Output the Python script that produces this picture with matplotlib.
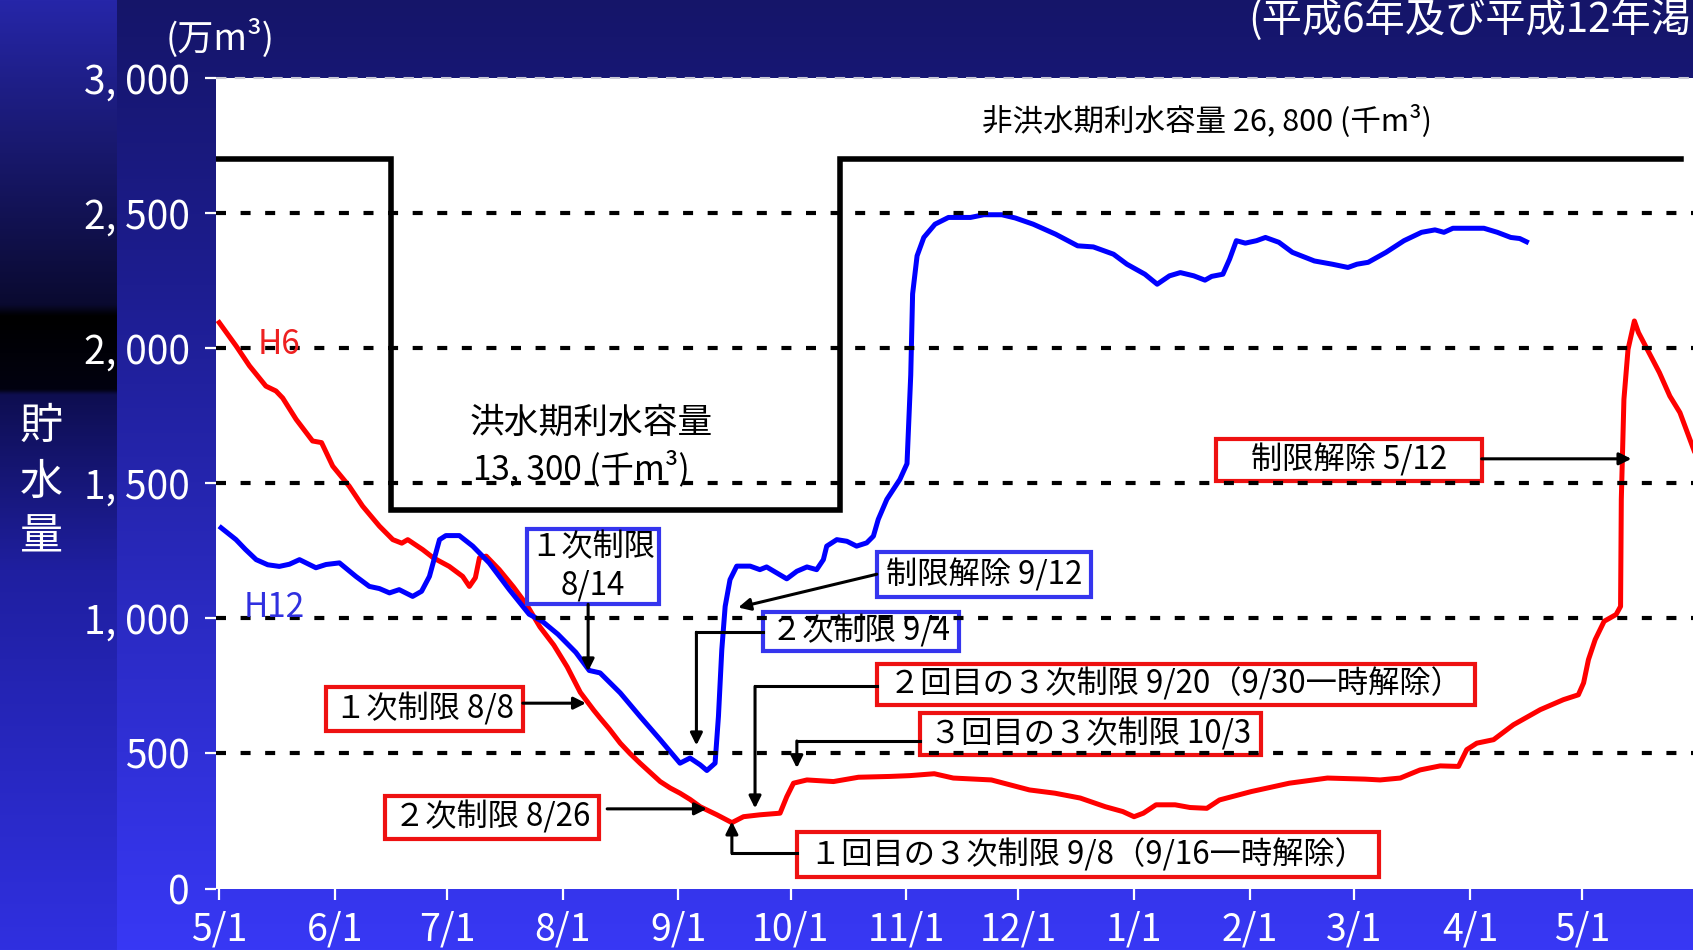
import numpy as np
import pandas as pd
import matplotlib.pyplot as plt
from matplotlib.patches import Rectangle
from matplotlib.ticker import FuncFormatter

plt.rcParams['font.family'] = ['Noto Sans CJK JP', 'DejaVu Sans']

# storage volume (万m3), x = days counted from 5/1
h6_day = [0, 4.5, 8.1, 12.5, 15.2, 17, 20.6, 25, 27.4, 30.4, 34.8, 38.4, 42.9,
          46.5, 48.9, 50.5, 54.5, 57.3, 61.6, 65.2, 67.0, 68.6, 69.7, 71.5,
          75.0, 78.8, 82.4, 85.9, 89.6, 93.2, 96.7, 100.3, 102.0, 104.5, 107.4,
          110.0, 112.7, 115.4, 118.1, 120.8, 123.4, 126.1, 128.8, 133.3, 137.3,
          140.4, 144.8, 150.2, 152.0, 153.8, 157.4, 164.5, 171.2, 179.7, 185,
          191.5, 196.6, 206.8, 217, 223.8, 230.6, 237.3, 242, 245, 247.5, 250.9,
          256, 260, 264.5, 267.9, 276.4, 286.6, 296.8, 306.9, 310.9, 316.3,
          321.6, 327.0, 331.9, 334.1, 336.8, 341.3, 346.6, 353.8, 360.0, 364.0,
          365.4, 366.7, 368.5, 370.9, 374.1, 375.3, 375.5, 376.2, 377.3, 379,
          380.1, 382.9, 385.7, 388.5, 391.2, 395]
h6_vol = [2094, 2008, 1934, 1859, 1841, 1815, 1736, 1656, 1650, 1563, 1489, 1415,
          1341, 1291, 1278, 1291, 1254, 1224, 1192, 1155, 1118, 1150, 1224, 1230,
          1180, 1116, 1049, 968, 901, 820, 726, 660, 631, 590, 538, 500, 464, 430,
          396, 372, 353, 330, 303, 273, 244, 266, 273, 279, 340, 390, 402, 396,
          412, 415, 418, 425, 409, 402, 365, 353, 335, 303, 285, 266, 279, 310,
          310, 300, 297, 328, 359, 390, 409, 405, 402, 409, 439, 454, 452, 514,
          538, 551, 606, 662, 699, 717, 761, 847, 921, 989, 1014, 1044, 1440,
          1810, 1995, 2100, 2057, 1983, 1909, 1822, 1761, 1620]

h12_day = [0.5, 4.5, 7, 9.9, 13, 16.1, 18.8, 21.5, 25.9, 28.6, 32.2, 36.6, 40.2,
           42.9, 45.6, 48.2, 51.8, 54.2, 56.3, 59.0, 60.7, 64.3, 67.9, 72.3, 77.7,
           83, 86.6, 90.7, 95.5, 99.1, 102.0, 107.4, 112.7, 118.1, 123.4, 126.1,
           128.8, 130.6, 132.8, 133.7, 134.6, 135.5, 136.8, 138.6, 142.2, 144.8,
           146.6, 149.3, 152, 154.7, 157.4, 160, 161.8, 162.7, 165.4, 168.1, 170.7,
           173.4, 175.2, 176.5, 178.8, 182.3, 184.2, 185.2, 185.7, 186.9, 188.7,
           191.7, 195.3, 201.2, 204.8, 209.6, 213.2, 218, 224, 229.9, 234.1, 239.5,
           243.1, 247.9, 251.2, 254.5, 257.4, 261, 264, 265.8, 268.8, 270.6, 272.4,
           274.8, 277.8, 280.2, 283.8, 287.4, 293.3, 298.1, 302.3, 304.7, 307.7,
           312.5, 317.3, 322, 325.6, 328, 330.4, 338.7, 342.3, 345.9, 348.3, 350.1]
h12_vol = [1335, 1291, 1255, 1217, 1198, 1192, 1200, 1217, 1187, 1199, 1205, 1155,
           1118, 1110, 1094, 1106, 1081, 1100, 1155, 1291, 1306, 1306, 1267, 1205,
           1106, 1015, 988, 941, 874, 807, 798, 724, 637, 551, 464, 483, 458, 437,
           464, 637, 884, 1044, 1143, 1193, 1193, 1180, 1190, 1168, 1146, 1174,
           1190, 1180, 1217, 1267, 1291, 1285, 1267, 1279, 1304, 1366, 1440, 1514,
           1572, 1900, 2200, 2341, 2409, 2458, 2483, 2483, 2493, 2493, 2481, 2458,
           2421, 2378, 2374, 2347, 2310, 2273, 2236, 2267, 2279, 2267, 2251, 2265,
           2273, 2329, 2397, 2388, 2397, 2409, 2391, 2354, 2322, 2310, 2298, 2310,
           2317, 2354, 2397, 2428, 2437, 2428, 2443, 2443, 2428, 2409, 2405, 2393]

# water-use capacity (flood season / non-flood season)
cap_day = [-1, 46, 46, 166.2, 166.2, 391.5]
cap_vol = [2700, 2700, 1400, 1400, 2700, 2700]

month_start = pd.date_range('2000-05-01', periods=13, freq='MS')
tick_days = (month_start - month_start[0]).days
tick_labels = [f'{d.month}/1' for d in month_start]
y_ticks = [0, 500, 1000, 1500, 2000, 2500, 3000]
grid_levels = [500, 1000, 1500, 2000, 2500]

W, H = 1693, 950
fig = plt.figure(figsize=(W / 100, H / 100), dpi=100)

# slide background: vertical gradient, darker strip on the far left
bg = fig.add_axes([0, 0, 1, 1], zorder=-10)
t = np.linspace(0, 1, 475)


def ramp(stops, cols):
    rgb = np.array([[int(c[i:i + 2], 16) / 255 for i in (1, 3, 5)] for c in cols])
    return np.stack([np.interp(t, stops, rgb[:, k]) for k in range(3)], axis=1)


main_col = ramp([0, 0.3, 1], ['#151569', '#1d1d90', '#3838f5'])
left_col = ramp([0, 0.32, 0.332, 0.41, 0.415, 0.6, 1],
                ['#2626a8', '#0a0a30', '#000000', '#020210', '#0e0e50', '#1f1fa0', '#3030e0'])
img = np.repeat(main_col[:, None, :], W, axis=1)
img[:, :117, :] = left_col[:, None, :]
bg.imshow(img, aspect='auto', extent=[0, 1, 0, 1], interpolation='bilinear')
bg.axis('off')

ax = fig.add_axes([216 / W, 1 - 888.6 / H, 1 - 216 / W, (888.6 - 77.7) / H])
ax.set_facecolor('white')
ax.set_xlim(-0.86, 394.7)
ax.set_ylim(0, 3000)
for s in ax.spines.values():
    s.set_visible(False)

ax.set_xticks(tick_days)
ax.set_xticklabels(tick_labels)
ax.set_yticks(y_ticks)
ax.yaxis.set_major_formatter(FuncFormatter(lambda v, _: f'{int(v):,}'.replace(',', ', ')))
ax.tick_params(axis='x', colors='white', labelsize=27, length=8, width=1.6, pad=8)
ax.tick_params(axis='y', colors='white', labelsize=28, length=8, width=1.6, pad=11)

for v in grid_levels:
    ax.axhline(v, color='black', lw=3, dashes=(2.4, 3.5), zorder=6)
ax.axhline(3000, color='#c8c8d4', lw=1.5, dashes=(5, 4), zorder=6, clip_on=False)

ax.plot(cap_day, cap_vol, color='black', lw=4, solid_joinstyle='miter', zorder=3)
ax.plot(h6_day, h6_vol, color='#ff0000', lw=3.6, solid_joinstyle='round', zorder=4)
ax.plot(h12_day, h12_vol, color='#0000ff', lw=3.6, solid_joinstyle='round', zorder=4)

ax.text(264.6, 2840, '非洪水期利水容量 26, 800 (千m³)', fontsize=22, ha='center', va='center', zorder=2)
ax.text(99.5, 1720, '洪水期利水容量', fontsize=25, ha='center', va='center', zorder=2)
ax.text(96.9, 1552, '13, 300 (千m³)', fontsize=24, ha='center', va='center', zorder=2)
ax.text(16, 2012, 'H6', fontsize=24, color='#ee2020', ha='center', va='center', zorder=7)
ax.text(14.7, 1040, 'H12', fontsize=24, color='#3030e0', ha='center', va='center', zorder=7)

RED, BLUE = '#ee1111', '#3535ee'
boxes = [
    (82.4, 117.7, 1052, 1332, BLUE, ['１次制限', '8/14']),
    (28.6, 81.3, 584, 744, RED, ['１次制限 8/8']),
    (44.5, 101.8, 184, 344, RED, ['２次制限 8/26']),
    (176.1, 233.4, 1080, 1244, BLUE, ['制限解除 9/12']),
    (145.5, 198.1, 880, 1024, BLUE, ['２次制限 9/4']),
    (176.1, 336.3, 680, 832, RED, ['２回目の３次制限 9/20（9/30一時解除）']),
    (187.7, 279.1, 496, 648, RED, ['３回目の３次制限 10/3']),
    (154.7, 310.6, 44, 208, RED, ['１回目の３次制限 9/8（9/16一時解除）']),
    (266.9, 338.1, 1508, 1664, RED, ['制限解除 5/12']),
]
for x0, x1, y0, y1, col, lines in boxes:
    ax.add_patch(Rectangle((x0, y0), x1 - x0, y1 - y0, fc='white', ec=col, lw=3, zorder=5))
    n = len(lines)
    for i, s in enumerate(lines):
        yc = y1 - (y1 - y0) * (i + 0.5) / n
        ax.text((x0 + x1) / 2, yc, s, fontsize=22.5, ha='center', va='center', zorder=5.5)

# arrows: polyline, last segment gets the head
arrows = [
    [(98.8, 1052), (98.8, 804)],
    [(81.3, 686), (98.2, 686)],
    [(103.9, 295), (130.6, 295)],
    [(176.1, 1163), (139.0, 1040)],
    [(145.5, 948), (127.8, 948), (127.8, 530)],
    [(176.1, 748), (143.5, 748), (143.5, 297)],
    [(187.7, 546), (154.7, 546), (154.7, 446)],
    [(154.7, 131), (137.3, 131), (137.3, 248)],
    [(338.1, 1590), (378.2, 1590)],
]
for pts in arrows:
    xs, ys = zip(*pts)
    ax.plot(xs[:-1], ys[:-1], color='black', lw=2.2, zorder=5.2)
    ax.annotate('', xy=pts[-1], xytext=pts[-2],
                arrowprops=dict(arrowstyle='-|>', color='black', lw=2.2,
                                mutation_scale=18, shrinkA=0, shrinkB=0), zorder=5.2)

fig.text(1691 / W, 1 - 20 / H, '(平成6年及び平成12年渇', color='white', fontsize=29,
         ha='right', va='center')
fig.text(220 / W, 1 - 38 / H, '(万m³)', color='white', fontsize=26, ha='center', va='center')
for ch, yp in zip('貯水量', [426.5, 482.6, 537.7]):
    fig.text(41 / W, 1 - yp / H, ch, color='white', fontsize=31, ha='center', va='center')

fig.savefig('out.png', dpi=100)
